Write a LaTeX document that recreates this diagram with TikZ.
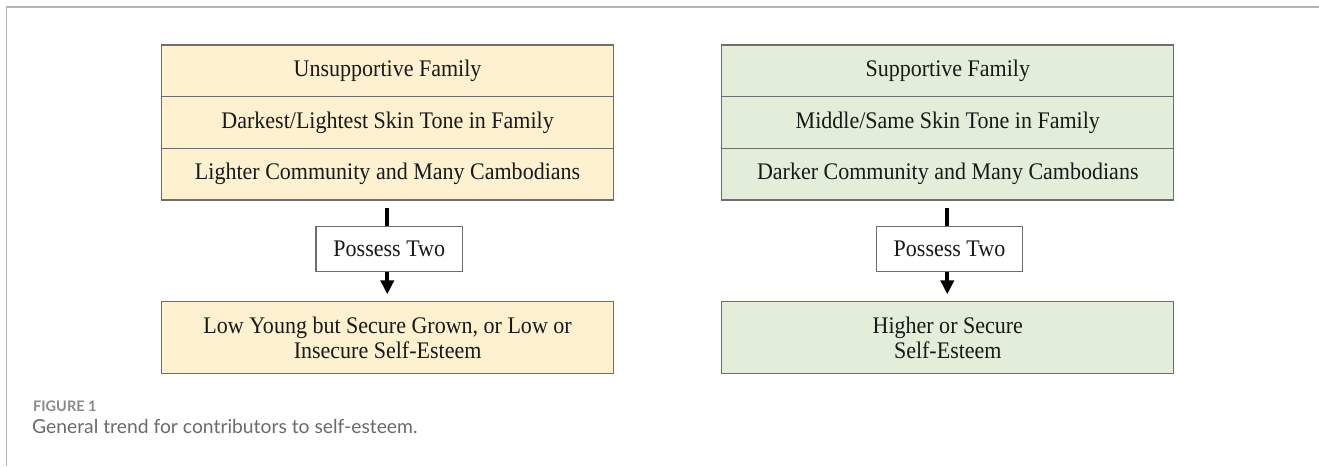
\documentclass[tikz,border=0pt]{standalone}
\usepackage{fontspec}
\setmainfont{Liberation Serif}[FakeStretch=0.925]
\newfontfamily\capfont{Lato}
\usetikzlibrary{arrows.meta}
\definecolor{beige}{HTML}{FEF1D0}
\definecolor{mint}{HTML}{E2EED9}
\definecolor{edge}{HTML}{6E6E6E}
\definecolor{framegray}{HTML}{B5B5B5}
\definecolor{capgray}{HTML}{6A6A6A}
\definecolor{figgray}{HTML}{8A8A8A}
\tikzset{
  row/.style={draw=edge, line width=1.3pt, minimum width=452pt, minimum height=51.7pt, inner sep=0pt,
    font=\fontsize{23.8}{25}\selectfont, text=black!90, align=center},
  outbox/.style={row, minimum height=71.6pt},
  midbox/.style={draw=edge, line width=1.2pt, fill=white, minimum width=146.5pt, minimum height=44.5pt,
    inner sep=0pt, font=\fontsize{23.8}{25}\selectfont, text=black!90},
  conn/.style={line width=4.2pt, draw=black},
  tipconn/.style={conn, -{Triangle[width=13pt,length=14pt]}},
}
\begin{document}
\begin{tikzpicture}[x=1pt,y=-1pt]
\useasboundingbox (0,0) rectangle (1319,466);
% frame
\coordinate (fa) at (6.3,466);
\coordinate (fb) at (6.3,6.7);
\coordinate (fc) at (1319,6.7);
\draw[framegray, line width=1.6pt] (fa) -- (fb) -- (fc);
% left column
\node[row, fill=beige] (l1) at (387.6,70.85) {Unsupportive Family};
\node[row, fill=beige] (l2) at (387.6,122.5) {Darkest/Lightest Skin Tone in Family};
\node[row, fill=beige] (l3) at (387.6,174.15) {Lighter Community and Many Cambodians};
\node[midbox] (lp) at (389.3,248.85) {Possess Two};
\node[outbox, fill=beige] (lo) at (387.6,337.5) {Low Young but Secure Grown, or Low or\\Insecure Self-Esteem};
% right column
\node[row, fill=mint] (r1) at (947.8,70.85) {Supportive Family};
\node[row, fill=mint] (r2) at (947.8,122.5) {Middle/Same Skin Tone in Family};
\node[row, fill=mint] (r3) at (947.8,174.15) {Darker Community and Many Cambodians};
\node[midbox] (rp) at (949.5,248.85) {Possess Two};
\node[outbox, fill=mint] (ro) at (947.8,337.5) {Higher or Secure\\Self-Esteem};
% connectors
\draw[conn, shorten <=7pt] (l3.south -| 387.3,0) -- (lp.north -| 387.3,0);
\draw[tipconn, shorten >=6.7pt] (lp.south -| 387.3,0) -- (lo.north -| 387.3,0);
\draw[conn, shorten <=7pt] (r3.south -| 947.3,0) -- (rp.north -| 947.3,0);
\draw[tipconn, shorten >=6.7pt] (rp.south -| 947.3,0) -- (ro.north -| 947.3,0);
% caption
\node[anchor=base west, inner sep=0pt, text=figgray, font=\capfont\bfseries\fontsize{14.5}{16}\selectfont] (fig) at (33,411) {FIGURE 1};
\node[anchor=base west, inner sep=0pt, text=capgray, font=\capfont\fontsize{19.3}{22}\selectfont] (cap) at (32,433) {General trend for contributors to self-esteem.};
\end{tikzpicture}
\end{document}
